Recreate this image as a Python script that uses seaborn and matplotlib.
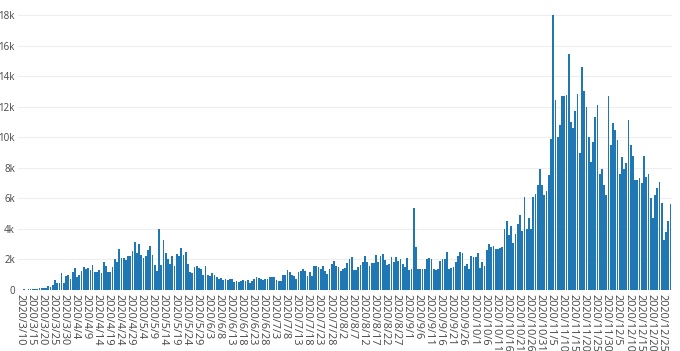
import pandas as pd
import seaborn as sns
import matplotlib.pyplot as plt

# daily counts (first day is 2020/3/10)
start_date = "2020-03-10"

mar_jun = [20, 30, 40, 30, 50, 40, 60, 50, 90,
           100, 120, 130, 150, 250, 220, 300,
           650, 470, 450, 1100, 450,
           900, 950, 700, 1200, 1450, 870, 1000, 1250, 1500, 1350,
           1450, 1300, 1650, 1150, 1200, 1300, 1100, 1850, 1600, 1150,
           1150, 1500, 2050, 1800, 2700, 2100, 2100, 1950, 2200, 2200,
           2550, 3150, 2450, 3000, 2300, 2100, 2250, 2650, 2850, 2300,
           1650, 1250, 4000, 1650, 3250, 2400, 2050, 1700, 2250, 1550,
           2350, 2250, 2750, 2300, 2500, 1700, 1150, 1100, 1500, 1600,
           1450, 1350, 950, 1600, 950, 900, 1100, 950, 850, 700,
           800, 650, 750, 650, 700, 700, 500, 600, 550]

jun_aug = [600, 650, 600, 650, 450, 600, 700, 850, 800, 700,
           650, 700, 750, 850, 850, 850, 650, 600, 600, 950,
           1000, 1300, 1150, 950, 900, 700, 1150, 1250, 1350, 1250,
           900, 1150, 900, 1600, 1600, 1500, 1400, 1550, 1250, 1050,
           1400, 1700, 1900, 1600, 1500, 1250, 1350]

aug_sep = [1420, 1750, 2000, 2150, 1300, 1300, 1500, 1650, 1800, 2200,
           1850, 1550, 1750, 1750, 2300, 1850, 2200, 2350, 1950, 1650,
           1700, 2150, 1800, 2150, 1900, 2000, 1700, 1500, 2100, 1300,
           1350, 5400, 2800, 1400, 1400, 1400, 1350, 2050, 2100, 2050,
           1400, 1300, 1400, 1900, 2000, 2050, 2500, 1400, 1450, 1500]

sep_nov = [1800, 2250, 2500, 2450, 1600, 1700, 1350, 2250, 2150, 2150,
           2400, 1450, 1850, 1600, 2600, 3000, 2800, 2850, 2700, 2700,
           2750, 2800, 4000, 4500, 3600, 4200, 3050, 3650, 4300, 4900,
           3850, 6100, 4000, 4700, 4000, 6100, 6300, 6900, 7900, 6900,
           6200, 6500, 7500, 9900, 18000]

nov_dec = [12460, 10000, 10800, 12700, 12700, 12750, 15450, 11000, 10600, 11700,
           12800, 9000, 14600, 13000, 12000, 10000, 8400, 9700, 11300, 12100,
           7600, 7900, 6900, 6200, 12700, 9500, 10900, 10500, 9800, 7600,
           8700, 7900, 8300, 11100, 9500, 8800, 7200, 7200, 7300, 7000,
           8800, 7400, 7600, 6000, 4700, 6200, 6700, 7100, 5700, 3300,
           3800, 4500, 5600]

values = mar_jun + jun_aug + aug_sep + sep_nov + nov_dec
dates = pd.date_range(start_date, periods=len(values), freq="D")
date_labels = [f"{d.year}/{d.month}/{d.day}" for d in dates]

y_ticks = [0, 2000, 4000, 6000, 8000, 10000, 12000, 14000, 16000, 18000]
y_tick_labels = ["0", "2k", "4k", "6k", "8k", "10k", "12k", "14k", "16k", "18k"]

df = pd.DataFrame({"date": date_labels, "count": values})

"""----------------------------------------------------------------------------
Plot the daily bar chart
----------------------------------------------------------------------------"""

sns.set_theme(style="white")                # set theme of sns
plt.rcParams["font.family"] = ["Open Sans", "DejaVu Sans"]

f = plt.figure(figsize=(6.8, 3.51), dpi=100)
ax = f.add_axes([0.0271, 0.1738, 0.9607, 0.8226])

sns.barplot(data=df,
            x="date",
            y="count",
            color="#1f77b4",
            saturation=1,
            width=0.8,
            linewidth=0,
            errorbar=None,
            ax=ax)

# axes: every 5th day on x, k-formatted ticks on y
n = len(values)
ax.set_xlim(-0.5, n - 0.5)
ax.set_ylim(0, 18900)
ax.set_xticks(range(0, n, 5))
ax.set_xticklabels(date_labels[::5], rotation=-90, ha="center", va="top",
                   fontsize=7.8, color="#444444")
ax.set_yticks(y_ticks)
ax.set_yticklabels(y_tick_labels, fontsize=7, color="#444444")
ax.tick_params(axis="x", length=0, pad=3)
ax.tick_params(axis="y", length=0, pad=2.5)
ax.set(xlabel="", ylabel="")

ax.yaxis.grid(True, color="#eeeeee", linewidth=0.8)
ax.set_axisbelow(True)
for s in ax.spines.values():
    s.set_visible(False)

f.savefig("out.png", dpi=100)
